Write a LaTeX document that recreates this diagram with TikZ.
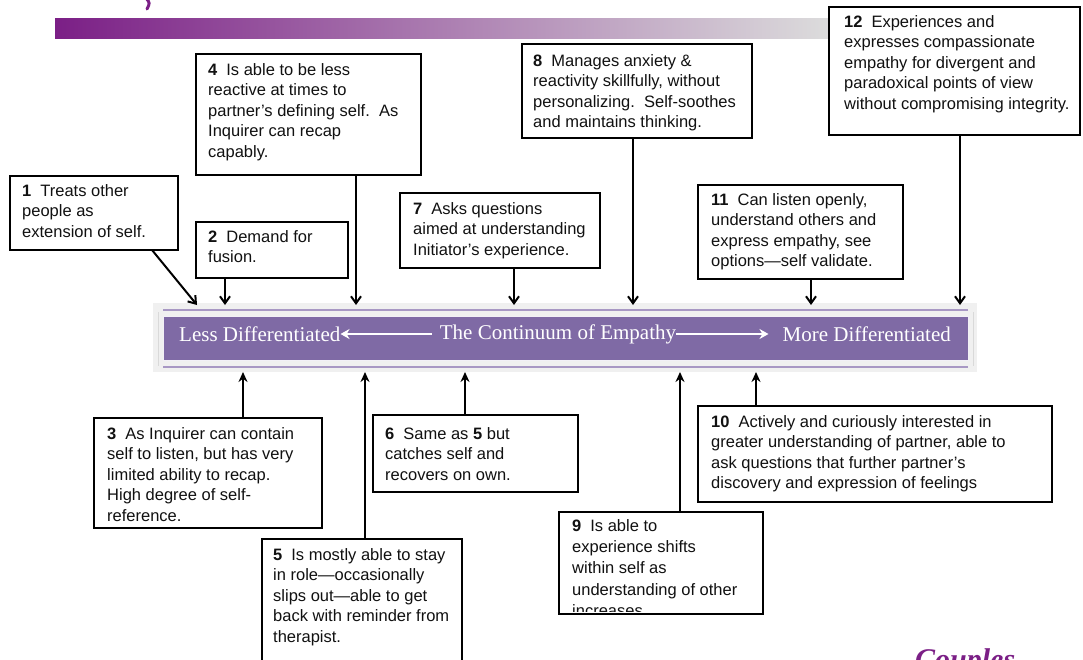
\documentclass[tikz,border=0pt]{standalone}
\usepackage{fontspec}
\setmainfont{Liberation Sans}
\newfontfamily\barfont{Liberation Serif}
\usetikzlibrary{arrows.meta,calc}
\definecolor{barpurple}{HTML}{7F6AA5}
\definecolor{barline}{HTML}{A898C4}
\definecolor{bargrey}{HTML}{F0F0F0}
\definecolor{gpurple}{HTML}{7B1F86}
\definecolor{ggrey}{HTML}{DCDCDC}
\definecolor{inktext}{HTML}{111111}
\newcommand\bnum[1]{{\bfseries #1}\hspace{9pt}}
\tikzset{
  box/.style={draw=black, line width=2.2pt, fill=white, inner sep=0pt, outer sep=0pt, anchor=north west},
  txt/.style={anchor=north west, inner sep=0pt, align=left, text=inktext, font=\fontsize{16.5}{20.5}\selectfont},
  arrdown/.style={line width=2pt, -{Straight Barb[length=7pt,width=10pt,line width=2pt]}},
  arrup/.style={line width=2pt, -{Stealth[length=10pt,width=9pt]}},
  whitearr/.style={draw=white, line width=2.8pt},
  bartxt/.style={text=white, inner sep=0pt, font=\barfont\fontsize{21}{23}\selectfont}
}
\begin{document}
\begin{tikzpicture}[x=1pt,y=-1pt]
\clip (0,0) rectangle (1083,659);
\fill[white] (0,0) rectangle (1083,659);
% header decoration
\shade[left color=gpurple, right color=ggrey] (55,18) rectangle (829,38);
\draw[gpurple, line width=3pt, line cap=round] (146,-2) .. controls (150,3) .. (147,9);
% continuum bar
\fill[bargrey] (153,303) rectangle (977,372);
\draw[barline, line width=2pt] (163,310) -- (968,310);
\draw[barline, line width=2pt] (163,367) -- (968,367);
\draw[white!85!black, line width=0.8pt] (158,312) -- (158,366);
\draw[white!85!black, line width=0.8pt] (973,312) -- (973,366);
\node[draw=white!90!barpurple, line width=1pt, fill=barpurple, minimum width=805pt, minimum height=44pt, inner sep=0pt, anchor=north west] (bar) at (163,316) {};
\node[bartxt, anchor=west] (less) at (179,334) {Less Differentiated};
\node[bartxt] (cont) at (558,334) {The Continuum of Empathy};
\node[bartxt, anchor=east] (more) at (951,334) {More Differentiated};
\draw[whitearr, {Stealth[length=9pt,width=10pt]}-] (less.east) -- ([xshift=-8pt]cont.west);
\draw[whitearr, -{Stealth[length=9pt,width=10pt]}] (cont.east) -- ([xshift=-14pt]more.west);
% arrow end points on the bar
\coordinate (e1) at (197,305);
\coordinate (e2) at (225,305);
\coordinate (e4) at (356,305);
\coordinate (e7) at (514,305);
\coordinate (e8) at (633,305);
\coordinate (e11) at (811,305);
\coordinate (e12) at (960,305);
\coordinate (s3) at (243,372);
\coordinate (s5) at (365,372);
\coordinate (s6) at (465,372);
\coordinate (s9) at (680,372);
\coordinate (s10) at (756,372);
% upper boxes
\node[box, minimum width=168pt, minimum height=74pt] (b1) at (10,176) {};
\node[txt] (t1) at (22,184) {\bnum{1}Treats other\\people as\\extension of self.};
\node[box, minimum width=152pt, minimum height=56pt] (b2) at (196,222) {};
\node[txt] (t2) at (208,230) {\bnum{2}Demand for\\fusion.};
\node[box, minimum width=225pt, minimum height=121pt] (b4) at (196,54) {};
\node[txt] (t4) at (208,63) {\bnum{4}Is able to be less\\reactive at times to\\partner's defining self.\ \ As\\Inquirer can recap\\capably.};
\node[box, minimum width=200pt, minimum height=75pt] (b7) at (400,193) {};
\node[txt] (t7) at (413,202) {\bnum{7}Asks questions\\aimed at understanding\\Initiator's experience.};
\node[box, minimum width=230pt, minimum height=94pt] (b8) at (522,44) {};
\node[txt] (t8) at (533,54) {\bnum{8}Manages anxiety \&\\reactivity skillfully, without\\personalizing.\ \ Self-soothes\\and maintains thinking.};
\node[box, minimum width=205pt, minimum height=94pt] (b11) at (698,185) {};
\node[txt] (t11) at (711,193) {\bnum{11}Can listen openly,\\understand others and\\express empathy, see\\options---self validate.};
\node[box, minimum width=251pt, minimum height=128pt] (b12) at (829,7) {};
\node[txt] (t12) at (844,15) {\bnum{12}Experiences and\\expresses compassionate\\empathy for divergent and\\paradoxical points of view\\without compromising integrity.};
% lower boxes
\node[box, minimum width=228pt, minimum height=110pt] (b3) at (94,418) {};
\node[txt] (t3) at (107,427) {\bnum{3}As Inquirer can contain\\self to listen, but has very\\limited ability to recap.\\High degree of self-\\reference.};
\node[box, minimum width=200pt, minimum height=135pt] (b5) at (262,539) {};
\node[txt] (t5) at (273,548) {\bnum{5}Is mostly able to stay\\in role---occasionally\\slips out---able to get\\back with reminder from\\therapist.};
\node[box, minimum width=205pt, minimum height=77pt] (b6) at (373,415) {};
\node[txt] (t6) at (385,427) {\bnum{6}Same as \textbf{5} but\\catches self and\\recovers on own.};
\node[box, minimum width=204pt, minimum height=102pt] (b9) at (559,512) {};
\begin{scope}
\clip (561,514) rectangle (761,611);
\node[txt, font=\fontsize{16.5}{21.3}\selectfont] (t9) at (572,519) {\bnum{9}Is able to\\experience shifts\\within self as\\understanding of other\\increases};
\end{scope}
\node[box, minimum width=354pt, minimum height=96pt] (b10) at (698,406) {};
\node[txt] (t10) at (711,415) {\bnum{10}Actively and curiously interested in\\greater understanding of partner, able to\\ask questions that further partner's\\discovery and expression of feelings};
% connectors
\draw[arrdown] ($(b1.south west)+(142,0)$) -- (e1);
\draw[arrdown] (b2.south -| e2) -- (e2);
\draw[arrdown] (b4.south -| e4) -- (e4);
\draw[arrdown] (b7.south -| e7) -- (e7);
\draw[arrdown] (b8.south -| e8) -- (e8);
\draw[arrdown] (b11.south -| e11) -- (e11);
\draw[arrdown] (b12.south -| e12) -- (e12);
\draw[arrup] (b3.north -| s3) -- (s3);
\draw[arrup] (b5.north -| s5) -- (s5);
\draw[arrup] (b6.north -| s6) -- (s6);
\draw[arrup] (b9.north -| s9) -- (s9);
\draw[arrup] (b10.north -| s10) -- (s10);
% cropped footer text
\node[anchor=base west, inner sep=0pt, text=gpurple, font=\barfont\itshape\bfseries\fontsize{30}{32}\selectfont] (foot) at (915,669) {Couples};
\end{tikzpicture}
\end{document}
